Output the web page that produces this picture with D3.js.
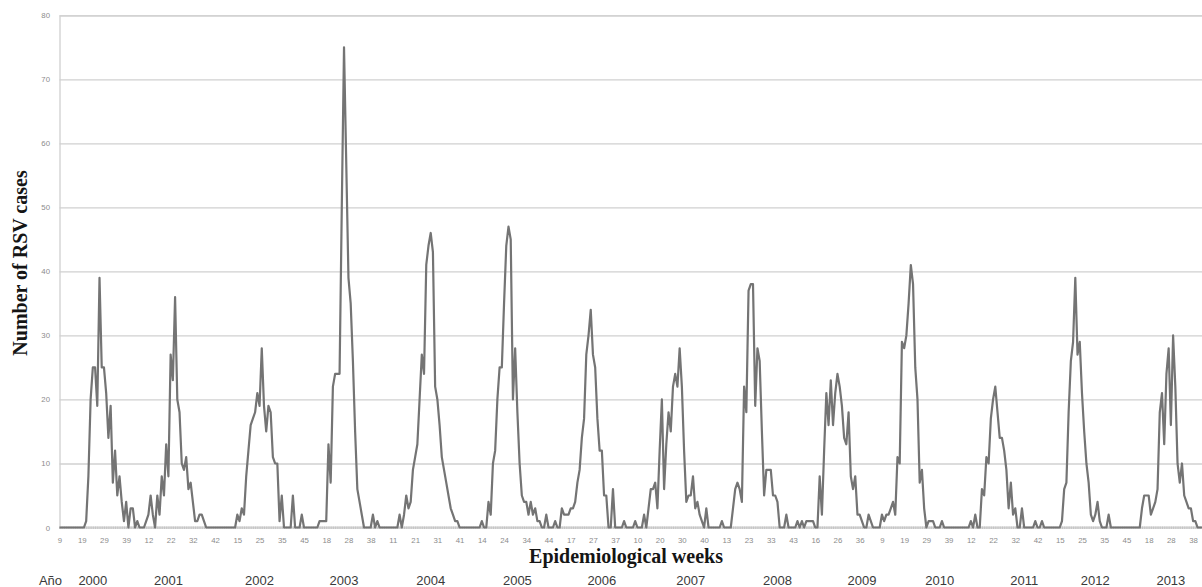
<!DOCTYPE html>
<html>
<head>
<meta charset="utf-8">
<style>
body { margin: 0; background: #fff; }
.grid line { stroke: #d0d0d0; stroke-width: 1.3px; }
.grid .domain { stroke: #d0d0d0; stroke-width: 1.3px; }
.tick-lbl text { font-family: "Liberation Sans", Arial, sans-serif; font-size: 7.8px; fill: #8c8c8c; }
.minor line { stroke: #c4c4c4; stroke-width: 1px; }
.minor .domain { stroke: #cfcfcf; stroke-width: 1px; }
.rsv-line { fill: none; stroke: #747474; stroke-width: 2.2px; stroke-linejoin: round; }
.axis-title { font-family: "Liberation Serif", "Times New Roman", serif; font-weight: bold; font-size: 20px; fill: #151515; }
.year-lbl { font-family: "Liberation Sans", Arial, sans-serif; font-size: 13px; fill: #3a3a3a; }
</style>
</head>
<body>
<script src="https://d3js.org/d3.v7.min.js"></script>
<script>

var width = 1202;
var height = 587;

// surveillance season: epidemiological weeks 9..45 of each year
var years = [2000, 2001, 2002, 2003, 2004, 2005, 2006, 2007, 2008, 2009, 2010, 2011, 2012, 2013];
var firstWeek = 9;

// weekly RSV cases, one array per season
var cases2000 = [0,0,0,0,0,0,0,0,0,0,0,0,1,8,20,25,25,19,39,25,25,21,14,19,7,12,5,8,4,1,4,0,3,3,0,1,0];
var cases2001 = [0,0,1,2,5,2,0,5,2,8,5,13,8,27,23,36,20,18,10,9,11,6,7,4,1,1,2,2,1,0,0,0,0,0,0,0,0];
var cases2002 = [0,0,0,0,0,0,2,1,3,2,8,12,16,17,18,21,19,28,19,15,19,18,11,10,10,1,5,0,0,0,0,5,0,0,0,2,0];
var cases2003 = [0,0,0,0,0,0,1,1,1,1,13,7,22,24,24,24,50,75,57,39,35,26,15,6,4,2,0,0,0,0,2,0,1,0,0,0,0];
var cases2004 = [0,0,0,0,0,2,0,2,5,3,4,9,11,13,20,27,24,41,44,46,43,22,20,16,11,9,7,5,3,2,1,1,0,0,0,0,0];
var cases2005 = [0,0,0,0,0,1,0,0,4,2,10,12,20,25,25,35,44,47,45,20,28,18,10,5,4,4,2,4,2,3,1,1,0,0,2,0,0];
var cases2006 = [0,1,0,0,3,2,2,2,3,3,4,7,9,14,17,27,30,34,27,25,17,12,12,5,5,0,0,6,0,0,0,0,1,0,0,0,0];
var cases2007 = [1,0,0,0,2,0,3,6,6,7,3,12,20,6,13,18,15,22,24,22,28,22,12,4,5,5,8,3,4,2,1,0,3,0,0,0,0];
var cases2008 = [0,0,1,0,0,0,0,3,6,7,6,4,22,18,37,38,38,19,28,26,15,5,9,9,9,5,5,4,0,0,0,2,0,0,0,0,1];
var cases2009 = [0,1,0,1,1,1,1,0,0,8,2,12,21,16,23,16,21,24,22,19,14,13,18,8,6,8,2,2,1,0,0,2,1,0,0,0,0];
var cases2010 = [2,1,2,2,3,4,2,11,10,29,28,30,35,41,38,25,20,7,9,3,0,1,1,1,0,0,0,1,0,0,0,0,0,0,0,0,0];
var cases2011 = [0,0,0,1,0,2,0,0,6,5,11,10,17,20,22,18,14,14,12,9,3,7,2,3,0,0,3,0,0,0,0,0,1,0,0,1,0];
var cases2012 = [0,0,0,0,0,0,0,1,6,7,18,26,29,39,27,29,21,15,10,7,2,1,2,4,1,0,0,0,2,0,0,0,0,0,0,0,0];
var cases2013 = [0,0,0,0,0,0,3,5,5,5,2,3,4,6,18,21,13,24,28,16,30,22,10,7,10,5,4,3,3,1,1,0,0,0];

var seasons = [cases2000, cases2001, cases2002, cases2003, cases2004, cases2005, cases2006,
               cases2007, cases2008, cases2009, cases2010, cases2011, cases2012, cases2013];

var yTicks = [0, 10, 20, 30, 40, 50, 60, 70, 80];
// data point under which each year label sits
var yearLabelAt = [15, 49, 90, 128, 167, 206, 244, 284, 323, 361, 396, 434, 466, 500];

var series = [];
seasons.forEach(function (arr, k) {
	arr.forEach(function (v, j) {
		series.push({ year: years[k], week: firstWeek + j, value: v });
	});
});
series.forEach(function (d, i) { d.i = i; });

var svg = d3.select("body").append("svg")
	.attr("width", width)
	.attr("height", height);

var x = d3.scaleLinear().domain([0, series.length - 1]).range([59.5, 1202]);
var y = d3.scaleLinear().domain([0, 80]).range([527.5, 15.3]);

// horizontal grid + y labels
var yAxis = svg.append("g")
	.attr("class", "grid tick-lbl")
	.attr("transform", "translate(59.5,0)")
	.call(d3.axisLeft(y).tickValues(yTicks).tickSize(-(width - 59.5)).tickPadding(9));
yAxis.selectAll(".tick text").attr("x", -9.5);
yAxis.selectAll(".tick").filter(function (d) { return d === 0; }).select("line").remove();

// weekly minor ticks on the base line
svg.append("g")
	.attr("class", "minor")
	.attr("transform", "translate(0," + (y(0) - 1) + ")")
	.call(d3.axisBottom(x).tickValues(d3.range(series.length)).tickSize(2.5).tickFormat(""));

// week labels every 10 points
var xAxis = svg.append("g")
	.attr("class", "tick-lbl")
	.attr("transform", "translate(0," + y(0) + ")")
	.call(d3.axisBottom(x)
		.tickValues(d3.range(0, series.length, 10))
		.tickFormat(function (i) { return series[i].week; })
		.tickSize(0).tickPadding(9.5));
xAxis.select(".domain").remove();

var line = d3.line()
	.x(function (d) { return x(d.i); })
	.y(function (d) { return y(d.value); });

svg.append("path")
	.datum(series)
	.attr("class", "rsv-line")
	.attr("d", line);

// titles
svg.append("text")
	.attr("class", "axis-title")
	.attr("text-anchor", "middle")
	.attr("x", 626)
	.attr("y", 562.5)
	.text("Epidemiological weeks");

svg.append("text")
	.attr("class", "axis-title")
	.attr("text-anchor", "middle")
	.attr("transform", "translate(27,263) rotate(-90)")
	.text("Number of RSV cases");

// year row
svg.append("text")
	.attr("class", "year-lbl")
	.attr("text-anchor", "middle")
	.attr("x", x(0) - 9)
	.attr("y", 585)
	.text("Año");

svg.selectAll(".yr")
	.data(yearLabelAt)
	.enter().append("text")
	.attr("class", "year-lbl")
	.attr("text-anchor", "middle")
	.attr("x", function (d) { return x(d); })
	.attr("y", 585)
	.text(function (d, k) { return years[k]; });

</script>
</body>
</html>
